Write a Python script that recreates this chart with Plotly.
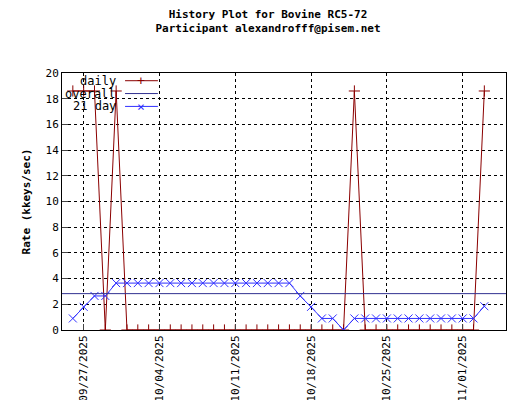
import pandas as pd
import plotly.graph_objects as go

# daily rate, one point per day from 09/26/2025
daily_dates = pd.date_range("2025-09-26", "2025-11-03", freq="D")
daily_rate = [18.6, 18.6, 18.6, 0, 18.6, 0, 0, 0, 0, 0,
              0, 0, 0, 0, 0, 0, 0, 0, 0, 0,
              0, 0, 0, 0, 0, 0, 18.6, 0, 0, 0,
              0, 0, 0, 0, 0, 0, 0, 0, 18.6]

# 21 day average
avg21_rate = [0.9, 1.8, 2.65, 2.65, 3.65, 3.65, 3.65, 3.65, 3.65, 3.65,
              3.65, 3.65, 3.65, 3.65, 3.65, 3.65, 3.65, 3.65, 3.65, 3.65,
              3.65, 2.65, 1.8, 0.9, 0.9, 0, 0.9, 0.9, 0.9, 0.9,
              0.9, 0.9, 0.9, 0.9, 0.9, 0.9, 0.9, 0.9, 1.85]

overall_rate = 2.83

font = "DejaVu Sans Mono"
red = "#8b0000"
blue = "#3030ff"

fig = go.Figure()
fig.add_trace(go.Scatter(x=daily_dates, y=daily_rate, mode="lines+markers",
                         line=dict(color=red, width=1),
                         marker=dict(symbol="line-ns", size=8, line=dict(color=red, width=1))))
fig.add_trace(go.Scatter(x=daily_dates, y=daily_rate, mode="markers",
                         marker=dict(symbol="line-ew", size=8, line=dict(color=red, width=1))))
fig.add_hline(y=overall_rate, line=dict(color="#303090", width=1))
fig.add_trace(go.Scatter(x=daily_dates, y=avg21_rate, mode="lines+markers",
                         line=dict(color=blue, width=1),
                         marker=dict(symbol="x-thin", size=8, line=dict(color=blue, width=1))))

# legend drawn by hand, gnuplot style
legend = [("daily", red, "+"), ("overall", "#303090", ""), ("21 day", blue, "×")]
for i, (name, col, sym) in enumerate(legend):
    yy = 0.97 - i * 0.05
    fig.add_annotation(x=0.125, y=yy, xref="paper", yref="paper", text=name, showarrow=False,
                       xanchor="right", yanchor="middle",
                       font=dict(family=font, size=12, color="black"))
    fig.add_shape(type="line", xref="paper", yref="paper", x0=0.142, x1=0.216, y0=yy, y1=yy,
                  line=dict(color=col, width=1))
    if sym:
        fig.add_annotation(x=0.179, y=yy, xref="paper", yref="paper", text=sym, showarrow=False,
                           xanchor="center", yanchor="middle",
                           font=dict(family=font, size=13, color=col))

fig.update_layout(
    width=520, height=400, showlegend=False,
    paper_bgcolor="white", plot_bgcolor="white",
    margin=dict(l=54, r=22, t=65, b=78),
    font=dict(family=font, size=11, color="black"),
    title=dict(text="<b>History Plot for Bovine RC5-72<br>Participant alexandrofff@pisem.net</b>",
               x=0.5, xanchor="center", y=0.975, yanchor="top", font=dict(size=11)),
)
fig.update_xaxes(range=["2025-09-25", "2025-11-05"], tickformat="%m/%d/%Y",
                 tick0="2025-09-27", dtick=7 * 86400000, tickangle=-90, automargin=False,
                 showgrid=True, gridcolor="black", griddash="dot", gridwidth=1,
                 showline=True, linecolor="black", mirror=True, ticks="inside", ticklen=6,
                 zeroline=False, tickfont=dict(size=11))
fig.update_yaxes(range=[0, 20], dtick=2, automargin=False,
                 title=dict(text="<b>Rate (kkeys/sec)</b>", standoff=12, font=dict(size=11)),
                 showgrid=True, gridcolor="black", griddash="dot", gridwidth=1,
                 showline=True, linecolor="black", mirror=True, ticks="inside", ticklen=6,
                 zeroline=False, tickfont=dict(size=11))

fig.write_html("out.html")
